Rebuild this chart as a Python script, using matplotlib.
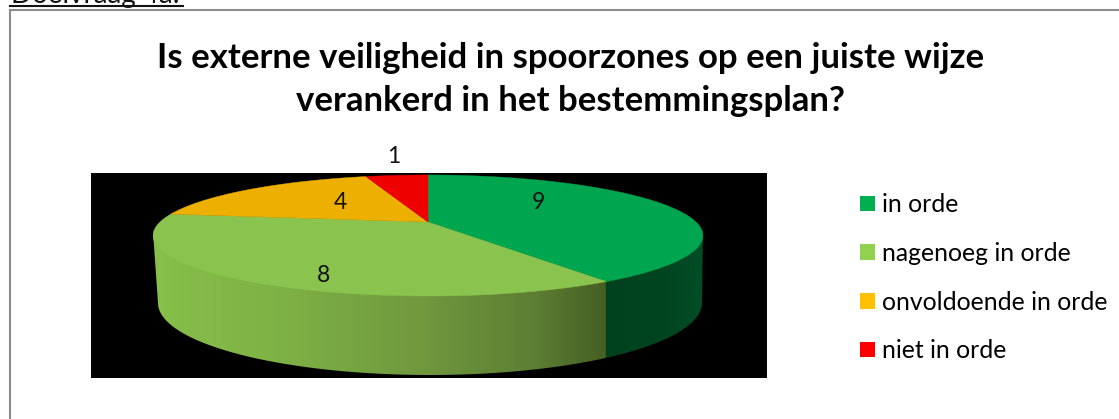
import numpy as np
import matplotlib
matplotlib.use("Agg")
import matplotlib.pyplot as plt
from matplotlib.colors import LinearSegmentedColormap
from matplotlib.patches import Patch, Polygon, Rectangle

categories = ["in orde", "nagenoeg in orde", "onvoldoende in orde", "niet in orde"]
values = [9, 8, 4, 1]
top_colors = ["#00A54F", "#8BC34F", "#EEB000", "#EE0000"]
legend_colors = ["#00B050", "#92D050", "#FFC000", "#FF0000"]
title = "Is externe veiligheid in spoorzones op een juiste wijze\nverankerd in het bestemmingsplan?"
label_pos = [(538, 202), (324, 275), (340, 202), (394, 156)]

plt.rcParams["font.family"] = ["Lato", "DejaVu Sans"]


def rim(theta, r=1.0):
    # circle to screen, perspective so that the apex sits above the ellipse centre
    u = r * np.sin(theta)
    v = -r * np.cos(theta)
    d = 1 - 0.223 * v
    return 428 + 268 * u / d, (222 + 8 * v) / d


fig = plt.figure(figsize=(11.19, 4.19), dpi=100)
ax = fig.add_axes([0, 0, 1, 1])
ax.set_xlim(0, 1119)
ax.set_ylim(419, 0)
ax.axis("off")

ax.text(11, 3, "Doelvraag 4a:", fontsize=20, color="#111111", ha="left", va="baseline")
ax.plot([10, 183], [6.5, 6.5], color="#111111", lw=1.5)
ax.add_patch(Rectangle((10, 10), 1200, 500, fc="white", ec="#8c8c8c", lw=1.5))
ax.add_patch(Rectangle((91, 173), 676, 205, fc="black", ec="none", zorder=1))

cuts = np.cumsum([0] + values) / sum(values) * 2 * np.pi

# side wall
t = np.linspace(0, 2 * np.pi, 721)
xr, yr = rim(t)
front = yr >= yr[np.argmin(xr)]
order = np.argsort(xr[front])
x_top, y_top = xr[front][order], yr[front][order]
x_low = 430 + 272 * np.cos(np.linspace(np.pi, 0, 361))
y_low = 303 + 72 * np.sin(np.linspace(np.pi, 0, 361))
# top edge pulled up a bit, it goes under the top face
wall = np.column_stack([np.r_[x_top, x_low[::-1]], np.r_[y_top - 3, y_low[::-1]]])

seam_x, _ = rim(cuts[1])
x0, x1 = x_top[0], x_top[-1]
s = (seam_x - x0) / (x1 - x0)
cmap = LinearSegmentedColormap.from_list("wall", [
    (0, "#87C04A"), (0.3 * s, "#7DB045"), (0.6 * s, "#70983E"), (0.85 * s, "#5C7D33"),
    (s, "#455F22"), (s + 0.001, "#00421E"), (0.93, "#004520"), (1, "#004D26")])
im = ax.imshow(np.linspace(0, 1, 600)[None, :], extent=(x0, x1, 378, 200), cmap=cmap,
               aspect="auto", zorder=2)
im.set_clip_path(Polygon(wall, transform=ax.transData))
ax.set_xlim(0, 1119)
ax.set_ylim(419, 0)

# top face
for i in range(len(values)):
    a = np.linspace(cuts[i], cuts[i + 1], 200)
    x, y = rim(a)
    ax.add_patch(Polygon(np.column_stack([np.r_[428, x], np.r_[222, y]]), fc=top_colors[i],
                         ec=top_colors[i], lw=0.3, zorder=3))

for v, (x, y) in zip(values, label_pos):
    ax.text(x, y, str(v), fontsize=16.5, color="#111111", ha="center", va="center", zorder=5)

ax.text(571, 79.5, title, fontsize=25, fontweight="bold", color="black", ha="center", va="center",
        linespacing=1.43)

handles = [Patch(fc=c, ec="none", label=n) for c, n in zip(legend_colors, categories)]
ax.legend(handles=handles, loc="upper left", bbox_to_anchor=(0.7685, 0.539), frameon=False, fontsize=17.8,
          handlelength=0.6, handleheight=0.6, handletextpad=0.28, labelspacing=1.04, borderpad=0,
          borderaxespad=0)

fig.savefig("out.png", dpi=100)
